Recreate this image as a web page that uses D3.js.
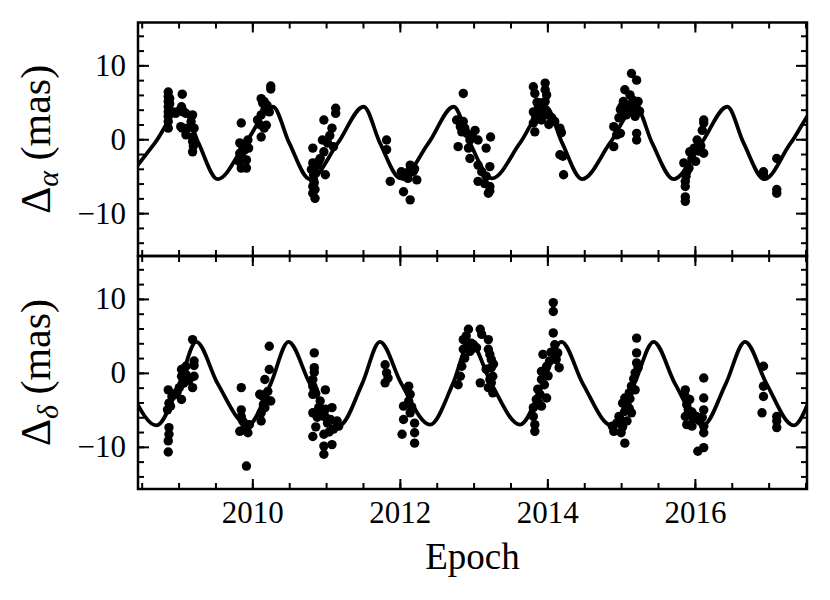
<!DOCTYPE html>
<html>
<head>
<meta charset="utf-8">
<script src="https://cdn.jsdelivr.net/npm/d3@7"></script>
<style>
  body { margin: 0; background: #fff; }
  svg text { font-family: "Liberation Serif", "Times New Roman", serif; fill: #000; }
</style>
</head>
<body>
<svg id="chart" width="830" height="600"></svg>
<script>
// x ticks
const yearTicks = [2010, 2012, 2014, 2016];
const yearMinor = d3.range(2008.5, 2017.6, 0.5);
const masTicks = [-10, 0, 10];
const masMinor = d3.range(-14, 15, 2);

// model curve, Delta alpha (epoch, mas)
const raModel = [
  [2008.30, -5.4], [2008.68, -0.5], [2009.05, 4.4], [2009.27, -0.5],
  [2009.53, -5.4], [2009.91, -0.5], [2010.28, 4.4], [2010.50, -0.5],
  [2010.78, -5.4], [2011.16, -0.5], [2011.51, 4.4], [2011.73, -0.5],
  [2012.01, -5.3], [2012.39, -0.5], [2012.73, 4.4], [2012.95, -0.5],
  [2013.25, -5.3], [2013.63, -0.5], [2013.98, 4.4], [2014.20, -0.5],
  [2014.47, -5.4], [2014.85, -0.5], [2015.20, 4.4], [2015.42, -0.5],
  [2015.71, -5.4], [2016.09, -0.5], [2016.44, 4.4], [2016.66, -0.5],
  [2016.94, -5.4], [2017.30, -0.5], [2017.68, 4.4], [2017.90, -0.5]
];

// model curve, Delta delta
const decModel = [
  [2008.00, 4.2], [2008.29, -1.45],
  [2008.70, -7.1], [2009.01, -1.45], [2009.24, 4.2], [2009.53, -1.45],
  [2009.94, -7.1], [2010.25, -1.45], [2010.49, 4.2], [2010.78, -1.45],
  [2011.18, -7.1], [2011.49, -1.45], [2011.73, 4.2], [2012.02, -1.45],
  [2012.41, -7.0], [2012.72, -1.45], [2012.95, 4.2], [2013.24, -1.45],
  [2013.63, -7.0], [2013.94, -1.45], [2014.19, 4.2], [2014.48, -1.45],
  [2014.87, -7.1], [2015.18, -1.45], [2015.44, 4.2], [2015.73, -1.45],
  [2016.11, -7.1], [2016.42, -1.45], [2016.68, 4.2], [2016.97, -1.45],
  [2017.34, -7.1], [2017.65, -1.45], [2017.92, 4.2]
];

// measured offsets, Delta alpha
const raObs = [
  [2008.86, 6.4], [2008.86, 5.8], [2008.86, 5.1], [2008.86, 4.4], [2008.86, 3.7], [2008.86, 3.1],
  [2008.86, 2.4], [2008.86, 1.5], [2008.88, 5.5], [2008.88, 4.8], [2008.93, 3.7], [2008.96, 3.5],
  [2009.05, 6.1], [2009.04, 4.4], [2009.06, 3.7], [2009.03, 1.7], [2009.05, 1.5], [2009.10, 3.5],
  [2009.12, 1.5], [2009.10, 0.6], [2009.19, 3.3], [2009.21, 1.5], [2009.19, 0.3], [2009.19, -0.3],
  [2009.19, -1.7], [2009.17, 2.4], [2009.20, -0.9],
  [2009.85, 2.2], [2009.83, -0.5], [2009.87, -1.0], [2009.83, -1.9], [2009.87, -2.6], [2009.92, -2.8],
  [2009.85, -3.9], [2009.92, -3.9], [2009.94, -0.1], [2009.95, -1.2], [2009.89, -1.5], [2009.82, -3.0],
  [2010.12, 5.5], [2010.16, 5.1], [2010.25, 7.2], [2010.25, 6.8], [2010.17, 4.0], [2010.12, 3.3],
  [2010.07, 2.6], [2010.19, 1.9], [2010.16, 1.5], [2010.12, 0.3], [2010.23, 3.7], [2010.20, 4.6],
  [2010.10, 2.0], [2010.14, 4.9],
  [2010.82, -1.2], [2010.82, -3.2], [2010.80, -4.1], [2010.83, -4.8], [2010.83, -5.5], [2010.82, -6.4],
  [2010.82, -7.3], [2010.85, -8.0], [2010.84, -5.9], [2010.86, -4.6], [2010.88, -3.5], [2010.92, -2.6],
  [2010.97, -1.7], [2010.95, -0.1], [2010.99, -4.8], [2010.97, 2.6], [2011.08, 1.5], [2011.10, -1.0],
  [2011.13, 4.2], [2011.13, 3.5], [2010.90, -3.0], [2011.02, -0.5], [2011.05, 0.5], [2010.85, -6.8],
  [2011.82, -0.1], [2011.82, -1.4], [2011.87, -5.7], [2012.02, -4.4], [2012.05, -7.1], [2012.14, -8.2],
  [2012.05, -5.0], [2012.14, -3.5], [2012.14, -4.1], [2012.18, -4.4], [2012.23, -5.5], [2012.11, -5.3],
  [2012.20, -4.0], [2012.08, -4.6],
  [2012.86, 6.2], [2012.77, 2.6], [2012.82, 1.7], [2012.79, -1.0], [2012.86, 2.4], [2012.88, 1.5],
  [2012.91, 0.8], [2012.95, -0.1], [2013.02, 1.2], [2012.93, -1.2], [2012.95, -2.6], [2013.06, -0.1],
  [2013.17, -1.2], [2013.23, 0.3], [2013.06, -3.5], [2013.11, -4.4], [2013.22, -3.7], [2013.06, -5.7],
  [2013.17, -5.0], [2013.22, -6.4], [2013.20, -7.3], [2013.22, -7.0], [2013.15, -6.0], [2012.98, 0.5],
  [2012.84, 1.0],
  [2013.81, 7.1], [2013.83, 6.2], [2013.97, 7.6], [2013.97, 6.7], [2013.99, 6.0], [2013.97, 5.1],
  [2013.81, 3.7], [2013.85, 3.1], [2013.92, 2.6], [2013.81, 2.2], [2013.83, 1.0], [2014.06, 2.9],
  [2013.88, 4.4], [2013.92, 3.7], [2013.90, 4.9], [2014.17, 1.5], [2014.19, 0.9], [2014.17, -2.1],
  [2014.21, -2.3], [2014.22, -4.8], [2013.95, 4.2], [2014.00, 3.3], [2013.86, 5.0], [2014.02, 2.0],
  [2014.10, 2.4], [2013.84, 2.8],
  [2014.90, -1.0], [2014.90, 1.7], [2014.94, 0.6], [2014.99, 0.8], [2014.97, 2.9], [2014.99, 4.0],
  [2015.03, 5.1], [2015.05, 6.7], [2015.12, 6.0], [2015.14, 8.9], [2015.21, 8.0], [2015.09, 4.6],
  [2015.16, 5.3], [2015.21, 4.2], [2015.23, 5.1], [2015.19, 3.1], [2015.07, 3.3], [2015.21, 0.8],
  [2015.21, -0.1], [2015.14, 3.7], [2015.01, 4.4], [2015.10, 4.0], [2015.18, 4.6], [2015.05, 3.8],
  [2015.25, 3.8],
  [2015.87, -7.8], [2015.87, -8.4], [2015.87, -6.4], [2015.87, -5.7], [2015.89, -4.4], [2015.85, -3.2],
  [2015.92, -3.9], [2015.93, -1.7], [2015.96, -2.6], [2016.01, -3.0], [2016.03, -0.1], [2016.12, -1.9],
  [2016.10, 1.2], [2016.12, 2.2], [2016.12, 2.6], [2016.08, -0.9], [2015.88, -5.0], [2015.99, -1.2],
  [2016.05, -1.6],
  [2016.93, -4.4], [2016.93, -4.8], [2017.11, -2.6], [2017.11, -6.8], [2017.11, -7.3]
];

// measured offsets, Delta delta
const decObs = [
  [2008.86, -2.3], [2008.87, -4.1], [2008.85, -5.0], [2008.87, -7.4], [2008.87, -8.3], [2008.86, -9.2],
  [2008.86, -10.7], [2008.91, -3.2], [2008.95, -2.9], [2008.89, -4.5],
  [2009.04, 0.45], [2009.04, -0.45], [2009.04, -3.6], [2009.01, -2.0], [2009.10, -0.2], [2009.06, 0.5],
  [2009.21, 1.6], [2009.21, -0.45], [2009.19, -2.0], [2009.19, 4.5], [2009.10, 0.9], [2009.14, -1.0],
  [2008.98, -2.6], [2009.07, -1.4], [2009.21, 1.0],
  [2009.85, -2.0], [2009.85, -5.0], [2009.85, -5.9], [2009.87, -6.5], [2009.83, -7.9], [2009.92, -7.4],
  [2009.94, -8.1], [2009.92, -12.6], [2009.90, -6.9], [2009.96, -7.0], [2009.88, -7.7],
  [2010.12, -6.5], [2010.12, -5.4], [2010.14, -3.2], [2010.10, -2.9], [2010.16, -3.0], [2010.17, -4.7],
  [2010.19, -3.6], [2010.17, -0.9], [2010.23, 0.45], [2010.25, -3.8], [2010.23, 3.6], [2010.15, -4.3],
  [2010.21, -2.5],
  [2010.84, 2.7], [2010.84, 0.7], [2010.84, 0.1], [2010.82, -0.9], [2010.82, -1.8], [2010.82, -2.9],
  [2010.84, -2.3], [2010.86, -2.8], [2010.82, -5.4], [2010.82, -8.6], [2010.92, -3.8], [2010.99, -2.3],
  [2010.90, -4.7], [2010.86, -7.3], [2010.97, -5.9], [2010.99, -4.9], [2010.97, -8.3], [2010.97, -9.9],
  [2010.97, -11.0], [2011.08, -4.7], [2011.08, -9.7], [2011.06, -6.3], [2011.10, -7.6], [2011.15, -6.5],
  [2011.17, -7.2], [2010.88, -6.0], [2011.02, -6.8], [2010.94, -5.3], [2011.04, -8.0],
  [2011.80, 1.1], [2011.82, 0.0], [2011.84, -0.7], [2011.80, -1.35],
  [2012.12, -1.8], [2012.14, -2.9], [2012.12, -3.8], [2012.05, -4.5], [2012.14, -5.4], [2012.05, -6.3],
  [2012.20, -6.8], [2012.03, -8.3], [2012.20, -8.1], [2012.20, -9.5], [2012.16, -4.6],
  [2012.79, -1.6], [2012.82, -0.45], [2012.84, 0.9], [2012.86, 3.2], [2012.86, 4.5], [2012.91, 3.6],
  [2012.93, 5.9], [2012.95, 2.9], [2012.88, 2.0], [2012.99, 3.3], [2013.09, 5.9], [2013.11, 5.2],
  [2013.20, 4.5], [2013.20, 3.2], [2013.24, 1.8], [2013.24, 0.7], [2013.26, -0.45], [2013.24, -1.35],
  [2013.20, -2.0], [2013.26, -2.7], [2013.09, -1.35], [2013.22, -0.9], [2013.17, 0.5], [2013.00, 3.8],
  [2012.97, 4.0], [2013.04, 3.4], [2012.90, 5.0], [2013.27, 1.2], [2013.22, 2.5],
  [2013.83, -7.9], [2013.83, -7.0], [2013.81, -5.9], [2013.81, -4.7], [2013.85, -3.6], [2013.90, -2.9],
  [2013.92, -4.5], [2013.88, -4.0], [2013.92, -0.9], [2013.92, 0.2], [2013.94, 2.5], [2013.99, 0.9],
  [2014.01, -0.4], [2013.99, -3.4], [2014.03, 1.6], [2014.08, 9.5], [2014.08, 8.3], [2014.08, 5.4],
  [2014.10, 3.8], [2014.12, 1.8], [2014.16, 0.7], [2013.87, -2.2], [2013.96, -1.6], [2013.97, -0.2],
  [2014.05, 2.8], [2014.14, 2.7],
  [2014.90, -7.9], [2014.88, -7.2], [2014.94, -6.8], [2014.97, -5.9], [2015.00, -8.1], [2015.05, -9.5],
  [2015.02, -7.3], [2015.05, -5.2], [2015.02, -4.1], [2015.05, -3.4], [2015.11, -4.8], [2015.14, -5.4],
  [2015.11, -2.7], [2015.14, -1.8], [2015.19, -2.3], [2015.23, 0.7], [2015.21, 1.35], [2015.21, 2.7],
  [2015.21, 4.7], [2015.08, -4.3], [2015.17, -0.8], [2014.99, -6.3], [2015.08, -6.5], [2015.19, 0.0],
  [2015.12, -3.5],
  [2015.87, -2.3], [2015.87, -3.2], [2015.89, -4.3], [2015.91, -5.0], [2015.87, -5.9], [2015.89, -7.0],
  [2015.96, -7.2], [2015.96, -5.3], [2016.01, -5.9], [2016.02, -5.9], [2016.04, -10.6], [2016.12, -10.1],
  [2016.12, -0.7], [2016.12, -3.4], [2016.12, -5.0], [2016.12, -7.2], [2016.12, -8.1], [2016.07, -6.3],
  [2015.93, -3.6], [2015.98, -6.2], [2016.10, -6.0],
  [2016.93, 0.9], [2016.93, -1.8], [2016.93, -3.2], [2016.91, -5.4], [2017.11, -5.9], [2017.11, -6.5],
  [2017.11, -7.4]
];

const svg = d3.select('#chart');
const left = 138, right = 807;
const top1 = 22.5, mid = 256, bot = 489;

const x = d3.scaleLinear().domain([2008.45, 2017.52]).range([left, right]);
const yTop = d3.scaleLinear().domain([-15.8, 15.8]).range([mid, top1]);
const yBot = d3.scaleLinear().domain([-15.7, 15.8]).range([bot, mid]);

svg.append('defs').append('clipPath').attr('id', 'clipTop')
  .append('rect').attr('x', left).attr('y', top1).attr('width', right - left).attr('height', mid - top1);
svg.select('defs').append('clipPath').attr('id', 'clipBot')
  .append('rect').attr('x', left).attr('y', mid).attr('width', right - left).attr('height', bot - mid);

function panel(y, y0, y1, model, obs, clipId, showX) {
  const g = svg.append('g');

  const line = d3.line()
    .x(d => x(d[0]))
    .y(d => y(d[1]))
    .curve(d3.curveMonotoneX);

  g.append('path')
    .datum(model)
    .attr('clip-path', `url(#${clipId})`)
    .attr('d', line)
    .attr('fill', 'none')
    .attr('stroke', '#000')
    .attr('stroke-width', 3.8);

  g.append('g').attr('clip-path', `url(#${clipId})`)
    .selectAll('circle')
    .data(obs)
    .enter()
    .append('circle')
    .attr('cx', d => x(d[0]))
    .attr('cy', d => y(d[1]))
    .attr('r', 4.7)
    .attr('fill', '#000');

  // ticks, all pointing inward
  const axes = [
    d3.axisBottom(x).tickValues(yearMinor).tickSize(-6).tickFormat(''),
    d3.axisBottom(x).tickValues(yearTicks).tickSize(-10).tickPadding(12).tickFormat(showX ? d3.format('d') : ''),
  ];
  axes.forEach(a => {
    const ag = g.append('g').attr('transform', `translate(0,${y0})`).call(a);
    ag.select('.domain').remove();
  });
  [d3.axisTop(x).tickValues(yearMinor).tickSize(-6), d3.axisTop(x).tickValues(yearTicks).tickSize(-10)]
    .forEach(a => {
      const ag = g.append('g').attr('transform', `translate(0,${y1})`).call(a.tickFormat(''));
      ag.select('.domain').remove();
    });
  [d3.axisLeft(y).tickValues(masMinor).tickSize(-6).tickFormat(''),
   d3.axisLeft(y).tickValues(masTicks).tickSize(-11).tickPadding(12).tickFormat(d3.format('d'))]
    .forEach(a => {
      const ag = g.append('g').attr('transform', `translate(${left},0)`).call(a);
      ag.select('.domain').remove();
    });
  [d3.axisRight(y).tickValues(masMinor).tickSize(-6), d3.axisRight(y).tickValues(masTicks).tickSize(-11)]
    .forEach(a => {
      const ag = g.append('g').attr('transform', `translate(${right},0)`).call(a.tickFormat(''));
      ag.select('.domain').remove();
    });

  g.selectAll('.tick line').attr('stroke', '#000').attr('stroke-width', 2);
  g.selectAll('.tick text')
    .attr('font-family', '"Liberation Serif", "Times New Roman", serif')
    .attr('font-size', 31)
    .attr('fill', '#000')
    .text(function(d) { return d3.select(this).text().replace('-', '\u2212'); });

  g.append('rect')
    .attr('x', left).attr('y', y1)
    .attr('width', right - left).attr('height', y0 - y1)
    .attr('fill', 'none')
    .attr('stroke', '#000')
    .attr('stroke-width', 2.5);
}

panel(yTop, mid, top1, raModel, raObs, 'clipTop', false);
panel(yBot, bot, mid, decModel, decObs, 'clipBot', true);

// axis labels
function ylabel(cy, sub) {
  const t = svg.append('text')
    .attr('transform', `translate(50,${cy}) rotate(-90)`)
    .attr('text-anchor', 'middle')
    .attr('font-size', 42);
  t.append('tspan').text('\u0394');
  t.append('tspan').attr('font-style', 'italic').attr('font-size', 30).attr('dy', 8).text(sub);
  t.append('tspan').attr('dy', -8).text('\u00a0(mas)');
}
ylabel((top1 + mid) / 2, '\u03b1');
ylabel((mid + bot) / 2, '\u03b4');

svg.append('text')
  .attr('x', (left + right) / 2)
  .attr('y', 569)
  .attr('text-anchor', 'middle')
  .attr('font-size', 37)
  .text('Epoch');
</script>
</body>
</html>
